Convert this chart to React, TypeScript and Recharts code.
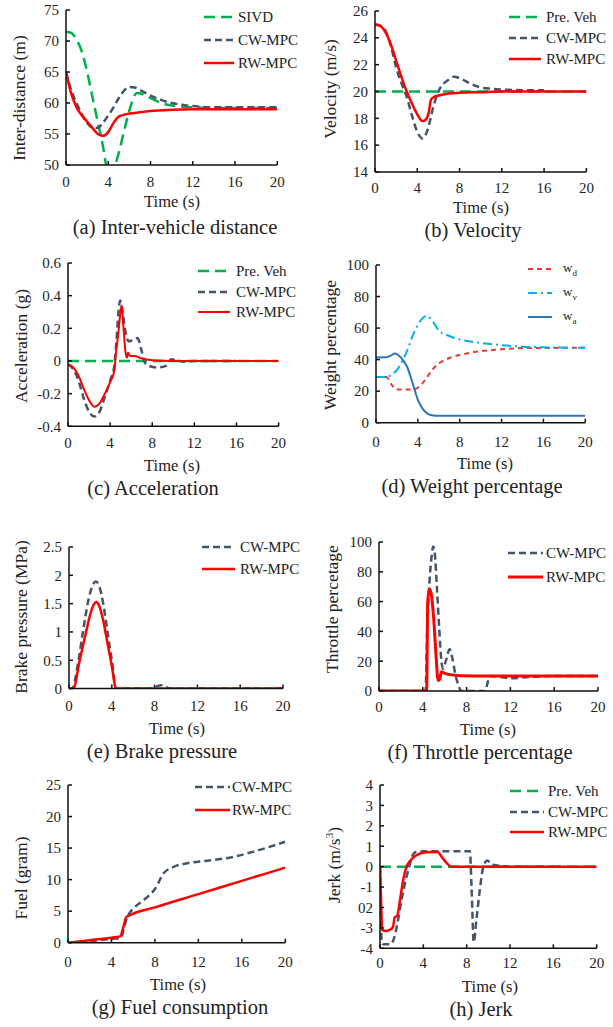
import React from 'react';
import { LineChart, Line, XAxis, YAxis } from 'recharts';

// colours picked off the figure
const GREEN = '#00B050';
const SLATE = '#44546A';
const RED = '#FF0000';
const CYAN = '#00B0F0';
const BLUE = '#2E75B6';
const RED_D = '#E8393A';

const FONT = '"Liberation Serif", "Times New Roman", serif';
const X_TICKS = [0, 4, 8, 12, 16, 20];

// (a) inter-vehicle distance
const A_SIVD_T = [0, 0.5, 1, 1.5, 2, 2.5, 3, 3.5, 3.8, 4.2, 4.65, 5, 5.5, 6, 6.7, 7.3, 8, 9, 10, 12, 14, 16, 20];
const A_SIVD = [71.5, 71.3, 70.2, 68.3, 65, 61, 57, 53, 50, 48.3, 50, 52, 55.5, 58.8, 61.6, 61.4, 60.8, 60, 59.6, 59.3, 59.2, 59.2, 59.2];
const A_CW_T = [0, 0.5, 1, 1.5, 2, 2.5, 3, 3.5, 4, 4.5, 5, 5.5, 6, 6.5, 7, 8, 9, 10, 11, 12, 14, 16, 18, 20];
const A_CW = [65, 62, 60, 58.2, 56.8, 56, 56, 56.8, 58, 59.3, 60.8, 62, 62.6, 62.5, 62.1, 61.2, 60.5, 60, 59.7, 59.5, 59.3, 59.3, 59.3, 59.3];
const A_RW_T = [0, 0.5, 1, 1.5, 2, 2.5, 3, 3.5, 4, 4.5, 5, 5.5, 6, 7, 8, 10, 12, 16, 20];
const A_RW = [65, 61.5, 59.3, 58, 57, 56, 55, 54.7, 55.3, 56.8, 57.8, 58.1, 58.3, 58.5, 58.7, 58.9, 59, 59, 59];

// (b) velocity
const B_PRE_T = [0, 20];
const B_PRE = [20, 20];
const B_CW_T = [0, 0.5, 1, 1.5, 2, 2.5, 3, 3.5, 4, 4.5, 5, 5.5, 6, 6.5, 7, 7.5, 8, 9, 10, 11, 12, 14, 16];
const B_CW = [25, 24.9, 24.5, 23.4, 21.8, 20.6, 19.6, 18.2, 17, 16.5, 17.2, 18.8, 20, 20.6, 20.9, 21.1, 21, 20.6, 20.3, 20.2, 20.15, 20.1, 20.1];
const B_RW_T = [0, 0.5, 1, 1.5, 2, 2.5, 3, 3.5, 4, 4.5, 4.8, 5.1, 5.3, 5.6, 6, 7, 8, 10, 12, 16, 20];
const B_RW = [25, 24.9, 24.4, 23.5, 22.3, 21.1, 20, 19.1, 18.3, 17.8, 17.9, 18.5, 19.4, 19.6, 19.7, 19.85, 19.9, 19.95, 20, 20, 20];

// (c) acceleration
const C_PRE_T = [0, 20];
const C_PRE = [0, 0];
const C_CW_T = [0, 0.5, 1, 1.5, 2, 2.5, 3, 3.5, 4, 4.4, 4.6, 4.8, 4.95, 5.15, 5.4, 5.6, 5.8, 6.2, 6.6, 7, 7.3, 7.7, 8.5, 9.3, 9.8, 10.3, 11, 12, 16];
const C_CW = [-0.02, -0.05, -0.12, -0.23, -0.31, -0.34, -0.31, -0.22, -0.12, -0.03, 0.12, 0.3, 0.37, 0.32, 0.2, 0.14, 0.12, 0.13, 0.14, 0.06, -0.01, -0.03, -0.04, -0.03, 0.01, 0.005, -0.005, 0, 0];
const C_RW_T = [0, 0.5, 1, 1.5, 2, 2.5, 3, 3.5, 4, 4.4, 4.55, 4.75, 4.95, 5.1, 5.25, 5.45, 5.6, 5.7, 5.9, 6.3, 7, 8, 10, 20];
const C_RW = [-0.02, -0.04, -0.09, -0.17, -0.24, -0.28, -0.26, -0.2, -0.13, -0.06, 0.05, 0.15, 0.28, 0.34, 0.22, 0.06, 0.02, 0.05, 0.03, 0.03, 0.015, 0.005, 0, 0];

// (d) weight percentage
const D_WD_T = [0, 1, 1.5, 2, 3, 3.8, 4.3, 5, 5.5, 6, 7, 8, 9, 10, 12, 14, 20];
const D_WD = [29, 29, 24, 21, 21, 21.5, 24, 30, 34.5, 37.5, 41, 43, 44.3, 45.3, 46.5, 47.3, 47.5];
const D_WV_T = [0, 1, 1.5, 2, 2.5, 3, 3.5, 4, 4.5, 4.8, 5.2, 5.5, 6, 7, 8, 9, 10, 12, 14, 16, 20];
const D_WV = [29, 29, 30.5, 33.5, 39, 46, 55, 62, 66.5, 67.8, 66, 63.5, 58.5, 55, 52.8, 51.5, 50.6, 49.2, 48.2, 47.8, 47.5];
const D_WA_T = [0, 1, 1.4, 1.8, 2.2, 2.6, 3, 3.5, 4, 4.5, 5, 5.5, 6, 20];
const D_WA = [41.4, 41.5, 42.5, 43.8, 42.5, 39.5, 35, 25, 14.5, 8.5, 5.5, 4.6, 4.4, 4.4];

// (e) brake pressure
const E_CW_T = [0, 0.3, 0.8, 1.3, 1.8, 2.2, 2.5, 2.8, 3.2, 3.6, 4, 4.4, 7.8, 8.2, 8.6, 9, 9.4, 20];
const E_CW = [0, 0, 0.4, 1.0, 1.55, 1.82, 1.89, 1.82, 1.5, 1.0, 0.5, 0, 0, 0.04, 0.06, 0.04, 0, 0];
const E_RW_T = [0, 0.4, 1, 1.5, 2, 2.3, 2.55, 2.8, 3.2, 3.6, 4, 4.4, 20];
const E_RW = [0, 0, 0.5, 0.92, 1.32, 1.48, 1.53, 1.47, 1.2, 0.8, 0.4, 0, 0];

// (f) throttle percentage
const F_CW_T = [0, 4.25, 4.4, 4.6, 4.8, 4.95, 5.1, 5.3, 5.5, 5.7, 5.85, 6.1, 6.45, 6.7, 6.95, 7.3, 7.5, 9.7, 9.9, 10.1, 11, 12, 13, 14, 16, 20];
const F_CW = [0, 0, 40, 72, 90, 97, 92, 68, 42, 20, 15, 20, 28, 22, 12, 3, 0, 0, 5, 10, 9.5, 8.5, 9, 9.5, 10, 10];
const F_RW_T = [0, 4.35, 4.45, 4.6, 4.8, 5.0, 5.2, 5.4, 5.55, 5.7, 6.0, 6.5, 7.5, 10, 20];
const F_RW = [0, 0, 60, 68.5, 64, 48, 25, 7, 8, 13, 11.8, 11, 10.3, 10, 10];

// (g) fuel consumption
const G_CW_T = [0, 4, 4.9, 5.1, 5.4, 5.7, 6, 7, 8, 8.8, 9.7, 11, 12.8, 15.2, 17, 20];
const G_CW = [0, 0.6, 0.8, 2.0, 3.8, 4.8, 5.4, 6.8, 8.5, 11, 12, 12.6, 13, 13.6, 14.4, 16];
const G_RW_T = [0, 2, 4, 4.8, 5.1, 5.3, 5.4, 8, 12, 16, 20];
const G_RW = [0, 0.4, 0.8, 1.0, 2.5, 3.8, 4.1, 5.6, 7.7, 9.8, 11.9];

// (h) jerk
const H_PRE_T = [0, 20];
const H_PRE = [0, 0];
const H_CW_T = [0, 0.15, 0.3, 1, 1.3, 1.6, 2, 2.4, 2.7, 3, 3.3, 4, 8.3, 8.45, 8.65, 8.9, 9.2, 9.5, 9.9, 10.3, 11, 12, 16.7];
const H_CW = [0, -3.6, -3.8, -3.8, -3.5, -2.8, -1.6, -0.6, 0, 0.55, 0.72, 0.75, 0.75, -1.0, -3.7, -2.6, -1.2, -0.1, 0.3, 0.1, 0.05, 0, 0];
const H_RW_T = [0, 0.1, 0.2, 0.5, 0.9, 1.2, 1.35, 1.6, 1.8, 2, 2.2, 2.45, 2.8, 3.2, 3.6, 4.2, 5.3, 5.8, 6.3, 6.6, 20];
const H_RW = [0, -1.6, -3.1, -3.15, -3.1, -2.95, -2.5, -2.4, -1.8, -1.1, -0.5, 0, 0.3, 0.5, 0.62, 0.7, 0.72, 0.4, 0.1, 0, 0];
const H_TICK_LABELS = ['-4', '-3', '02', '-1', '0', '1', '2', '3', '4'];

const zip = (t: number[], v: number[]) => t.map((x, i) => ({ t: x, v: v[i] }));

type Series = { name: React.ReactNode; t: number[]; v: number[]; color: string; dash?: string; width: number };

const pre = (t: number[], v: number[]): Series => ({ name: 'Pre. Veh', t, v, color: GREEN, dash: '11 6', width: 2.5 });
const cw = (t: number[], v: number[]): Series => ({ name: 'CW-MPC', t, v, color: SLATE, dash: '7 4', width: 2.5 });
const rw = (t: number[], v: number[]): Series => ({ name: 'RW-MPC', t, v, color: RED, width: 2.5 });

const W = (s: string) => (
    <span style={{ fontSize: 13 }}>w<sub style={{ fontSize: 9 }}>{s}</sub></span>
);

const range = (a: number, b: number, s: number) => {
    const out: number[] = [];
    for (let x = a; x <= b + 1e-9; x += s) out.push(+x.toFixed(2));
    return out;
};

const PANELS = [
    {
        box: [65.7, 10, 277, 165], xGap: 17,
        yDomain: [50, 75], yTicks: range(50, 75, 5),
        yTitle: 'Inter-distance (m)', yTitlePos: [20, 98],
        xTitlePos: [172, 202], caption: '(a) Inter-vehicle distance', capPos: [175, 227],
        legend: { x: 204, w: 30, tx: 238, y: 17, dy: 23 },
        series: [
            { name: 'SIVD', t: A_SIVD_T, v: A_SIVD, color: GREEN, dash: '11 6', width: 2.5 },
            cw(A_CW_T, A_CW), rw(A_RW_T, A_RW),
        ],
    },
    {
        box: [375.3, 10.7, 586.7, 171.7], xGap: 15.5,
        yDomain: [14, 26], yTicks: range(14, 26, 2),
        yTitle: 'Velocity (m/s)', yTitlePos: [331, 89],
        xTitlePos: [481, 208], caption: '(b) Velocity', capPos: [473, 230],
        legend: { x: 509, w: 32, tx: 546, y: 17, dy: 21 },
        series: [pre(B_PRE_T, B_PRE), cw(B_CW_T, B_CW), rw(B_RW_T, B_RW)],
    },
    {
        box: [67.7, 262.7, 278.3, 426], xGap: 17,
        yDomain: [-0.4, 0.6], yTicks: range(-0.4, 0.6, 0.2),
        yTitle: 'Acceleration (g)', yTitlePos: [22, 346],
        xTitlePos: [172, 466], caption: '(c) Acceleration', capPos: [153, 488],
        legend: { x: 198, w: 32, tx: 236, y: 271, dy: 20.5 },
        series: [pre(C_PRE_T, C_PRE), cw(C_CW_T, C_CW), { ...rw(C_RW_T, C_RW), width: 2 }],
    },
    {
        box: [376, 265, 585.3, 422.7], xGap: 19,
        yDomain: [0, 100], yTicks: range(0, 100, 20),
        yTitle: 'Weight percentage', yTitlePos: [331, 345],
        xTitlePos: [485, 464], caption: '(d) Weight percentage', capPos: [472, 486],
        legend: { x: 528, w: 24, tx: 563, y: 269, dy: 24 },
        series: [
            { name: W('d'), t: D_WD_T, v: D_WD, color: RED_D, dash: '5 4', width: 2 },
            { name: W('v'), t: D_WV_T, v: D_WV, color: CYAN, dash: '9 4 2 4', width: 2 },
            { name: W('a'), t: D_WA_T, v: D_WA, color: BLUE, width: 2 },
        ],
    },
    {
        box: [69.3, 546.7, 283.3, 688.3], xGap: 17,
        yDomain: [0, 2.5], yTicks: range(0, 2.5, 0.5),
        yTitle: 'Brake pressure (MPa)', yTitlePos: [22, 617],
        xTitlePos: [177, 729], caption: '(e) Brake pressure', capPos: [162, 751],
        legend: { x: 202, w: 33, tx: 240, y: 547, dy: 22 },
        series: [cw(E_CW_T, E_CW), rw(E_RW_T, E_RW)],
    },
    {
        box: [378.7, 541.7, 597.7, 690.7], xGap: 16,
        yDomain: [0, 100], yTicks: range(0, 100, 20),
        yTitle: 'Throttle percetage', yTitlePos: [333, 609],
        xTitlePos: [488, 730], caption: '(f) Throttle percentage', capPos: [480, 752],
        legend: { x: 508, w: 35, tx: 546, y: 553, dy: 24 },
        series: [cw(F_CW_T, F_CW), { ...rw(F_RW_T, F_RW), width: 3 }],
    },
    {
        box: [67.7, 785, 285, 942.7], xGap: 19,
        yDomain: [0, 25], yTicks: range(0, 25, 5),
        yTitle: 'Fuel (gram)', yTitlePos: [22, 878],
        xTitlePos: [178, 985], caption: '(g) Fuel consumption', capPos: [180, 1007],
        legend: { x: 195, w: 35, tx: 232, y: 787, dy: 23 },
        series: [cw(G_CW_T, G_CW), rw(G_RW_T, G_RW)],
    },
    {
        box: [380, 785, 596.7, 948.3], xGap: 15,
        yDomain: [-4, 4], yTicks: range(-4, 4, 1),
        yTickLabels: H_TICK_LABELS,
        yTitle: <>Jerk (m/s<sup style={{ fontSize: 11 }}>3</sup>)</>, yTitlePos: [334, 865],
        xTitlePos: [490, 987], caption: '(h) Jerk', capPos: [481, 1009],
        legend: { x: 510, w: 34, tx: 548, y: 791, dy: 20.5 },
        series: [pre(H_PRE_T, H_PRE), cw(H_CW_T, H_CW), rw(H_RW_T, H_RW)],
    },
];

const YW = 60;
const XH = 40;

function Panel({ p }: { p: any }) {
    const [l, t, r, b] = p.box;
    const left = l - YW;
    const top = t - 10;
    const width = r - left + 15;
    const height = b - top + XH;
    const fmt = (v: number) => {
        if (p.yTickLabels) return p.yTickLabels[p.yTicks.indexOf(v)] ?? String(v);
        return String(+v.toFixed(2));
    };
    const tickStyle = { fill: '#222', fontSize: 15, fontFamily: FONT };
    const axisLine = { stroke: '#111', strokeWidth: 1.5 };

    return (
        <>
            <div style={{ position: 'absolute', left, top }}>
                <LineChart
                    width={width}
                    height={height}
                    margin={{ top: 10, right: 15, left: 0, bottom: 0 }}
                    style={{ fontFamily: FONT }}
                >
                    <XAxis
                        type="number"
                        dataKey="t"
                        domain={[0, 20]}
                        ticks={X_TICKS}
                        allowDataOverflow
                        height={XH}
                        axisLine={axisLine}
                        tickLine={{ stroke: '#111', strokeWidth: 1.5 }}
                        tickSize={-4}
                        tickMargin={p.xGap - 1.6}
                        tick={tickStyle}
                        interval={0}
                    />
                    <YAxis
                        type="number"
                        domain={p.yDomain}
                        ticks={p.yTicks}
                        allowDataOverflow
                        width={YW}
                        axisLine={axisLine}
                        tickLine={{ stroke: '#111', strokeWidth: 1.5 }}
                        tickSize={-4}
                        tickMargin={11}
                        tick={tickStyle}
                        tickFormatter={fmt}
                        interval={0}
                    />
                    {p.series.map((s: Series, i: number) => (
                        <Line
                            key={i}
                            data={zip(s.t, s.v)}
                            dataKey="v"
                            type="monotone"
                            stroke={s.color}
                            strokeWidth={s.width}
                            strokeDasharray={s.dash}
                            dot={false}
                            activeDot={false}
                            isAnimationActive={false}
                        />
                    ))}
                </LineChart>
            </div>

            {/* legend */}
            {p.series.map((s: Series, i: number) => {
                const y = p.legend.y + i * p.legend.dy;
                return (
                    <React.Fragment key={'lg' + i}>
                        <svg
                            style={{ position: 'absolute', left: p.legend.x, top: y - 3 }}
                            width={p.legend.w}
                            height={6}
                        >
                            <line x1={0} y1={3} x2={p.legend.w} y2={3} stroke={s.color} strokeWidth={s.width} strokeDasharray={s.dash} />
                        </svg>
                        <div
                            style={{
                                position: 'absolute', left: p.legend.tx, top: y, transform: 'translateY(-50%)',
                                fontSize: 15, color: '#222', whiteSpace: 'nowrap', lineHeight: 1, fontFamily: FONT,
                            }}
                        >
                            {s.name}
                        </div>
                    </React.Fragment>
                );
            })}

            <div
                style={{
                    position: 'absolute', left: p.yTitlePos[0], top: p.yTitlePos[1],
                    transform: 'translate(-50%, -50%) rotate(-90deg)', fontSize: 17.5, color: '#222',
                    whiteSpace: 'nowrap', lineHeight: 1, fontFamily: FONT,
                }}
            >
                {p.yTitle}
            </div>
            <div
                style={{
                    position: 'absolute', left: p.xTitlePos[0], top: p.xTitlePos[1],
                    transform: 'translate(-50%, -50%)', fontSize: 16.5, color: '#222', whiteSpace: 'nowrap',
                    lineHeight: 1, fontFamily: FONT,
                }}
            >
                Time (s)
            </div>
            <div
                style={{
                    position: 'absolute', left: p.capPos[0], top: p.capPos[1],
                    transform: 'translate(-50%, -50%)', fontSize: 20.5, color: '#222', whiteSpace: 'nowrap',
                    lineHeight: 1, fontFamily: FONT,
                }}
            >
                {p.caption}
            </div>
        </>
    );
}

export default function App() {
    return (
        <div
            style={{
                position: 'absolute', left: 0, top: 0, width: 613, height: 1027,
                background: '#fff', fontFamily: FONT, overflow: 'hidden',
            }}
        >
            {PANELS.map((p, i) => <Panel key={i} p={p} />)}
        </div>
    );
}
